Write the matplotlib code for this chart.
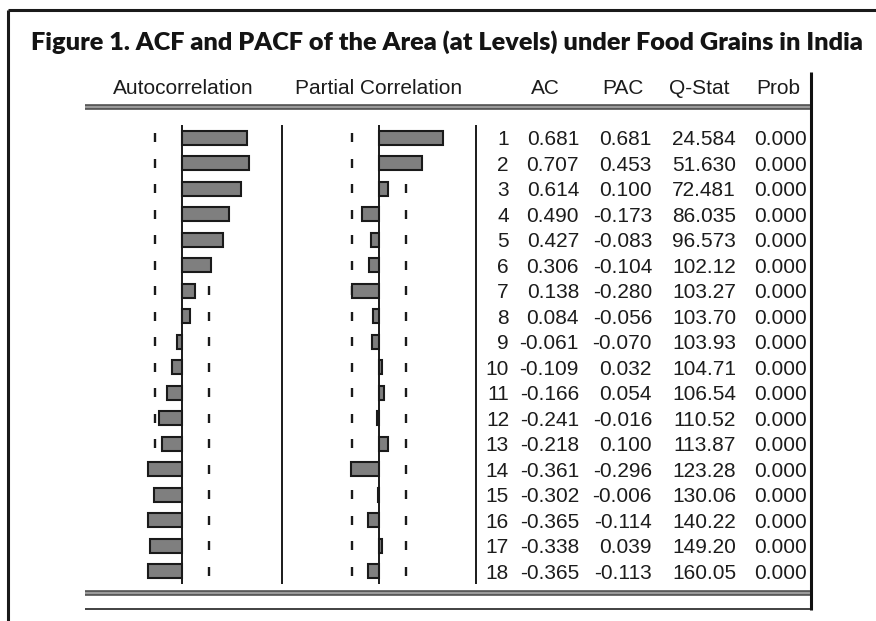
import numpy as np
import matplotlib
matplotlib.use("Agg")
import matplotlib.pyplot as plt
from matplotlib.transforms import blended_transform_factory, offset_copy

# correlogram of area under food grains (levels), 18 lags
lags = np.arange(1, 19)
ac = [0.681, 0.707, 0.614, 0.490, 0.427, 0.306, 0.138, 0.084, -0.061, -0.109,
      -0.166, -0.241, -0.218, -0.361, -0.302, -0.365, -0.338, -0.365]
pac = [0.681, 0.453, 0.100, -0.173, -0.083, -0.104, -0.280, -0.056, -0.070, 0.032,
       0.054, -0.016, 0.100, -0.296, -0.006, -0.114, 0.039, -0.113]
q_stat = [24.584, 51.630, 72.481, 86.035, 96.573, 102.12, 103.27, 103.70, 103.93,
          104.71, 106.54, 110.52, 113.87, 123.28, 130.06, 140.22, 149.20, 160.05]
prob = [0.000] * 18
n_obs = 50
band = 2 / np.sqrt(n_obs)

title = "Figure 1. ACF and PACF of the Area (at Levels) under Food Grains in India"
headers = ["Autocorrelation", "Partial Correlation", "AC", "PAC", "Q-Stat", "Prob"]

W, H = 876, 621
fig = plt.figure(figsize=(W / 100, H / 100), dpi=100)
fig.patch.set_facecolor("white")

# background axes in pixel units for frame, rules and text
bg = fig.add_axes([0, 0, 1, 1])
bg.set_xlim(0, W)
bg.set_ylim(H, 0)
bg.axis("off")

ink = "#1a1a1a"
txt = "#1c1c1c"


def panel(x0, x1, y0, y1):
    a = fig.add_axes([x0 / W, 1 - y1 / H, (x1 - x0) / W, (y1 - y0) / H])
    a.set_xlim(-1, 1)
    a.set_ylim(18.5, 0.5)
    a.axis("off")
    return a


ax_acf = panel(87.3, 277.3, 125, 584)
ax_pacf = panel(283.7, 473.7, 125, 584)

for a, vals in [(ax_acf, ac), (ax_pacf, pac)]:
    a.vlines(np.full(len(lags), -band), lags - 0.17, lags + 0.17, color=ink, lw=1.7, zorder=1)
    a.vlines(np.full(len(lags), band), lags - 0.17, lags + 0.17, color=ink, lw=1.7, zorder=1)
    a.barh(lags, vals, height=0.55, left=0, color="#7f7f7f", edgecolor=ink,
           linewidth=1.5, zorder=3)
    a.axvline(0, color=ink, lw=1.4, zorder=4)

# outer frame
bg.plot([8, W], [10, 10], color=ink, lw=2.2, solid_capstyle="butt")
bg.plot([8, 8], [10, H], color=ink, lw=2.2, solid_capstyle="butt")

# table rules
bg.plot([810.5, 810.5], [72, 610], color="#111111", lw=2.2, solid_capstyle="butt")
bg.fill_between([85, 810], 104.5, 109, color="#9a9a9a", lw=0)
bg.fill_between([85, 810], 590.5, 595, color="#9a9a9a", lw=0)
for y in (105, 108.5, 591, 594.5):
    bg.plot([85, 810], [y, y], color="#444444", lw=1.1, solid_capstyle="butt")
bg.plot([85, 810], [609, 609], color="#333333", lw=1.3, solid_capstyle="butt")
bg.vlines([281.5, 475.5], 125, 584, color=ink, lw=1.4)

# title, sized to span the frame
t = bg.text(446.5, 50, title, ha="center", va="baseline", fontsize=20,
            fontweight="heavy", family="Lato", color="#141414")
r = fig.canvas.get_renderer()
w = t.get_window_extent(r).width
t.set_fontsize(20 * 833 / w)

# column headers
head_x = [183, 378.5, 545, 623, 699.5, 778]
for hx, label in zip(head_x, headers):
    bg.text(hx, 93.5, label, ha="center", va="baseline", fontsize=15,
            family="Liberation Sans", color=txt)

# numeric columns, rows aligned with the bar panels
row_tr = offset_copy(blended_transform_factory(bg.transData, ax_acf.transData),
                     fig=fig, y=-5.4, units="points")


def fmt_q(v):
    return f"{v:.3f}" if v < 100 else f"{v:.2f}"


cols = [
    (509, [str(k) for k in lags]),
    (579, [f"{v:.3f}" for v in ac]),
    (652, [f"{v:.3f}" for v in pac]),
    (736, [fmt_q(v) for v in q_stat]),
    (807, [f"{v:.3f}" for v in prob]),
]
for cx, strings in cols:
    for k, s in zip(lags, strings):
        bg.text(cx, k, s, ha="right", va="baseline", fontsize=15,
                family="Liberation Sans", color=txt, transform=row_tr)

fig.savefig("out.png", dpi=100, facecolor="white")
